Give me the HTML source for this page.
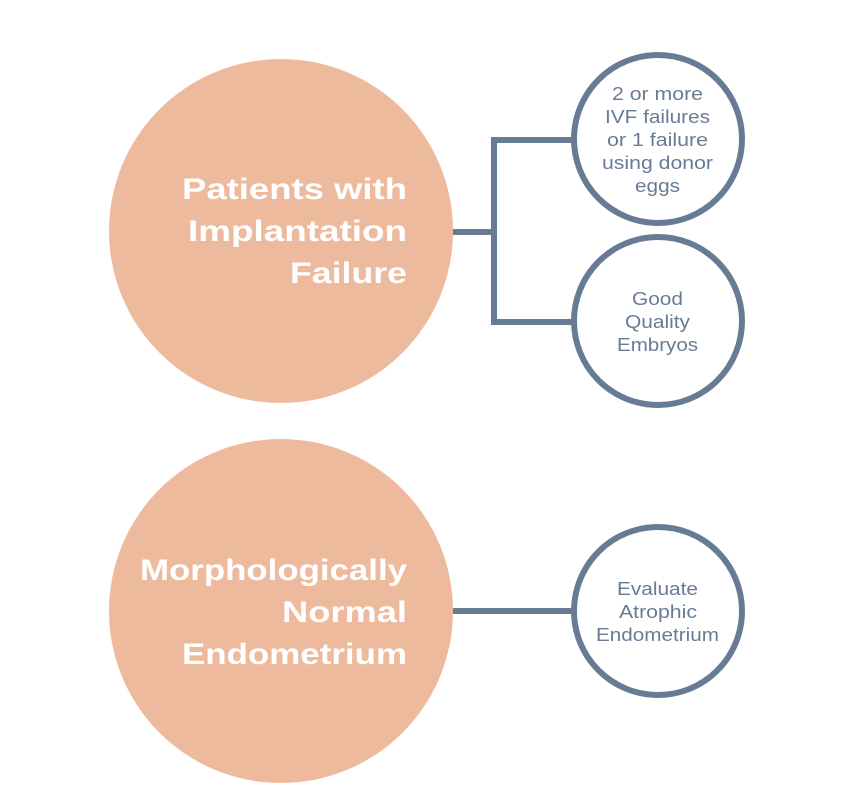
<!DOCTYPE html>
<html><head><meta charset="utf-8"><style>
html,body{margin:0;padding:0;background:#fff;}
body{width:853px;height:810px;position:relative;overflow:hidden;font-family:"Liberation Sans",sans-serif;}
</style></head><body>
<svg width="853" height="810" viewBox="0 0 853 810" style="position:absolute;left:0;top:0">
<circle cx="281" cy="231" r="172" fill="#EDBA9E"/>
<circle cx="281" cy="611" r="172" fill="#EDBA9E"/>
<g stroke="#687B95" stroke-width="6" fill="none">
<polyline points="453,232 494,232"/>
<polyline points="573,140 494,140 494,322 573,322"/>
<line x1="453" y1="611" x2="573" y2="611"/>
<circle cx="658" cy="139" r="84" fill="#fff"/>
<circle cx="658" cy="321" r="84" fill="#fff"/>
<circle cx="658" cy="611" r="84" fill="#fff"/>
</g>
<g fill="#fff" font-weight="bold" font-size="30" font-family="Liberation Sans, sans-serif" lengthAdjust="spacingAndGlyphs">
<text x="182" y="199" textLength="225" lengthAdjust="spacingAndGlyphs">Patients with</text>
<text x="188" y="241" textLength="219" lengthAdjust="spacingAndGlyphs">Implantation</text>
<text x="290" y="283" textLength="117" lengthAdjust="spacingAndGlyphs">Failure</text>
<text x="140" y="580" textLength="267" lengthAdjust="spacingAndGlyphs">Morphologically</text>
<text x="282" y="622" textLength="125" lengthAdjust="spacingAndGlyphs">Normal</text>
<text x="182" y="664" textLength="225" lengthAdjust="spacingAndGlyphs">Endometrium</text>
</g>
<g fill="#687B95" font-size="18" font-family="Liberation Sans, sans-serif">
<text x="612" y="100" textLength="91" lengthAdjust="spacingAndGlyphs">2 or more</text>
<text x="605" y="123" textLength="105" lengthAdjust="spacingAndGlyphs">IVF failures</text>
<text x="607" y="146" textLength="101" lengthAdjust="spacingAndGlyphs">or 1 failure</text>
<text x="602" y="169" textLength="111" lengthAdjust="spacingAndGlyphs">using donor</text>
<text x="635" y="192" textLength="45" lengthAdjust="spacingAndGlyphs">eggs</text>
<text x="632" y="305" textLength="51" lengthAdjust="spacingAndGlyphs">Good</text>
<text x="625" y="328" textLength="65" lengthAdjust="spacingAndGlyphs">Quality</text>
<text x="617" y="351" textLength="81" lengthAdjust="spacingAndGlyphs">Embryos</text>
<text x="617" y="595" textLength="81" lengthAdjust="spacingAndGlyphs">Evaluate</text>
<text x="619" y="618" textLength="78" lengthAdjust="spacingAndGlyphs">Atrophic</text>
<text x="596" y="641" textLength="123" lengthAdjust="spacingAndGlyphs">Endometrium</text>
</g>
</svg>
</body></html>
